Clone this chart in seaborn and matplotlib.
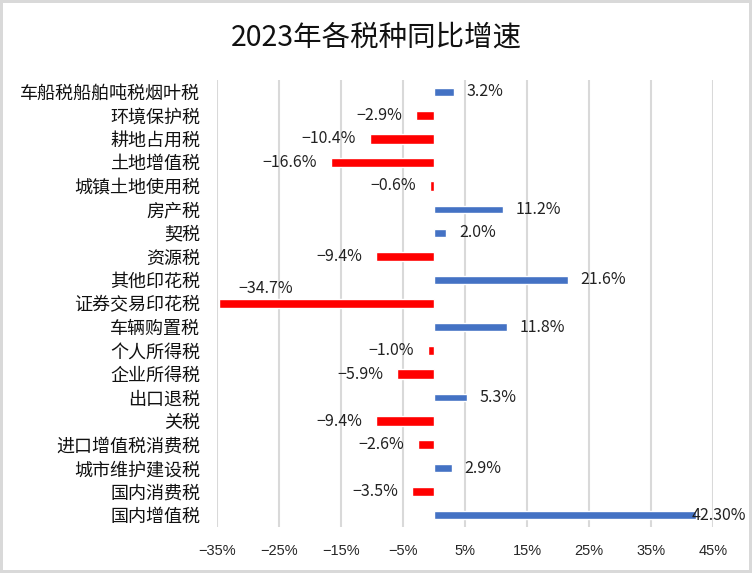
import matplotlib
matplotlib.use("Agg")
import matplotlib.pyplot as plt
import seaborn as sns
import pandas as pd

categories = ["车船税船舶吨税烟叶税", "环境保护税", "耕地占用税", "土地增值税", "城镇土地使用税",
              "房产税", "契税", "资源税", "其他印花税", "证券交易印花税", "车辆购置税",
              "个人所得税", "企业所得税", "出口退税", "关税", "进口增值税消费税",
              "城市维护建设税", "国内消费税", "国内增值税"]
values = [3.2, -2.9, -10.4, -16.6, -0.6, 11.2, 2.0, -9.4, 21.6, -34.7, 11.8,
          -1.0, -5.9, 5.3, -9.4, -2.6, 2.9, -3.5, 42.30]
value_labels = ["3.2%", "-2.9%", "-10.4%", "-16.6%", "-0.6%", "11.2%", "2.0%", "-9.4%",
                "21.6%", "-34.7%", "11.8%", "-1.0%", "-5.9%", "5.3%", "-9.4%", "-2.6%",
                "2.9%", "-3.5%", "42.30%"]
xticks = [-35, -25, -15, -5, 5, 15, 25, 35, 45]
title = "2023年各税种同比增速"

sns.set_style("white")
plt.rcParams['font.family'] = ['Noto Sans CJK SC', 'DejaVu Sans']
plt.rcParams['axes.unicode_minus'] = False

df = pd.DataFrame({"cat": categories, "val": values, "lab": value_labels})
pos = df[df.val >= 0]
neg = df[df.val < 0]

fig = plt.figure(figsize=(7.52, 5.73), dpi=100)
fig.patch.set_edgecolor("#d9d9d9")
fig.patch.set_linewidth(3)
ax = fig.add_axes([0.2886, 0.0803, 0.6594, 0.7801])

sns.barplot(data=pos, x="val", y="cat", order=categories, orient="h",
            color="#4472C4", width=0.32, saturation=1, ax=ax, zorder=3)
sns.barplot(data=neg, x="val", y="cat", order=categories, orient="h",
            color="#FF0000", width=0.40, saturation=1, ax=ax, zorder=3)

ax.set_xlim(-35, 45)
ax.set_xticks(xticks)
ax.set_xticklabels([f"{t}%".replace("-", "−") for t in xticks], fontsize=10.5,
                   family=['Liberation Sans Narrow', 'Liberation Sans', 'DejaVu Sans'])
ax.grid(axis="x", color="#d9d9d9", linewidth=1.5, zorder=0)
ax.grid(axis="y", visible=False)
ax.set_axisbelow(True)
for s in ax.spines.values():
    s.set_visible(False)
ax.tick_params(axis="x", length=0, pad=12)
ax.tick_params(axis="y", length=0, labelsize=13, pad=12, labelcolor="#111111")
ax.set_xlabel("")
ax.set_ylabel("")

vmin = min(values)
vmax = max(values)
for i, (v, lab) in enumerate(zip(values, value_labels)):
    txt = lab.replace("-", "−")
    kw = dict(textcoords="offset points", va="center", fontsize=11.5, color="#222222",
              annotation_clip=False)
    if v == vmin:
        ax.annotate(txt, (v, i), xytext=(14, 11), ha="left", **kw)
    elif v == vmax:
        ax.annotate(txt, (v, i), xytext=(-3, 0), ha="left", **kw)
    elif v >= 0:
        ax.annotate(txt, (v, i), xytext=(9, 0), ha="left", **kw)
    else:
        ax.annotate(txt, (v, i), xytext=(-10, 0), ha="right", **kw)

fig.text(0.5, 0.935, title, ha="center", va="center", fontsize=20.5, color="#111111")

fig.savefig("out.png", dpi=100, edgecolor=fig.get_edgecolor())
